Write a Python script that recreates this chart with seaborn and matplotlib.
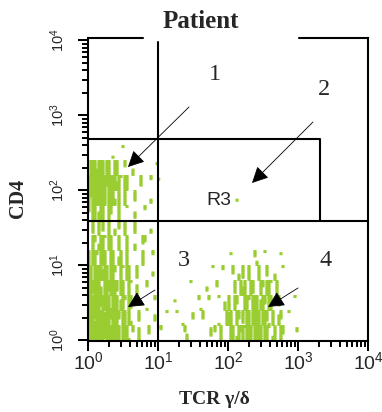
import numpy as np
import pandas as pd
import matplotlib
matplotlib.use("Agg")
import matplotlib.pyplot as plt
from matplotlib.ticker import LogLocator, NullFormatter, FuncFormatter
from matplotlib.lines import Line2D
from matplotlib.transforms import IdentityTransform
import seaborn as sns

# ---------------- data ----------------
# Occupied dot slots (of 7x7 = 49) per 0.2-decade cell, rows listed bottom -> top.
# Gate 1: CD4+ cells  (TCR 10^0..10^1, CD4 10^1.6..10^2.6)
cd4pos_origin = (0.0, 1.6)
cd4pos_counts = [
    [28, 18, 8, 3, 2],
    [45, 38, 14, 5, 2],
    [49, 47, 26, 5, 2],
    [38, 28, 10, 3, 1],
    [0, 1, 1, 0, 0],
]
# Gate 3: double-negative cells (TCR 10^0..10^1, CD4 10^0..10^1.6)
dn_origin = (0.0, 0.0)
dn_counts = [
    [49, 48, 36, 9, 4],
    [48, 45, 32, 7, 3],
    [47, 43, 28, 6, 3],
    [45, 40, 26, 6, 3],
    [42, 36, 22, 6, 2],
    [30, 28, 18, 7, 2],
    [20, 22, 14, 7, 3],
    [13, 15, 11, 6, 2],
]
# Gate 4: TCR gamma/delta+ cells (TCR 10^1..10^3, CD4 10^0..10^1.2)
gd_origin = (1.0, 0.0)
gd_counts = [
    [2, 3, 3, 4, 10, 26, 36, 36, 20, 2],
    [1, 2, 3, 4, 8, 24, 34, 34, 16, 1],
    [0, 1, 2, 3, 5, 18, 30, 30, 12, 1],
    [0, 0, 1, 2, 3, 13, 24, 24, 8, 0],
    [0, 0, 0, 1, 2, 7, 13, 12, 4, 0],
    [0, 0, 0, 0, 0, 1, 3, 3, 1, 0],
]
# isolated events
single_tcr = [10 ** 1.01, 10 ** 2.13]
single_cd4 = [10 ** 2.15, 10 ** 1.87]

# gate boundaries
quad_tcr = 10.0
quad_cd4 = 10 ** 1.593
r3_right = 10 ** 3.314
r3_top = 10 ** 2.685

tick_exponents = [0, 1, 2, 3, 4]
minor_multipliers = [2, 3, 4, 5, 6, 7, 8, 9]
region_labels = ["1", "2", "3", "4"]

# ---------------- build events ----------------
CELL = 0.2
SUB = 7
A1, A2 = 0.7548776662466927, 0.5698402909980532


def slot_order(shift):
    # low-discrepancy ranking of the 7x7 slots of a cell
    ranked = []
    for i in range(SUB):
        for j in range(SUB):
            ranked.append((((i * A1 * SUB) + (j * A2 * SUB) + shift * 0.618034) % 1.0, i, j))
    ranked.sort()
    return [(i, j) for _, i, j in ranked]


xs, ys = [], []
cell_id = 0
for (x0, y0), grid in [(cd4pos_origin, cd4pos_counts), (dn_origin, dn_counts), (gd_origin, gd_counts)]:
    for r, row in enumerate(grid):
        for c, n in enumerate(row):
            cell_id += 1
            if n <= 0:
                continue
            for (i, j) in slot_order(cell_id)[:n]:
                xs.append(10 ** (x0 + c * CELL + (i + 0.5) / SUB * CELL))
                ys.append(10 ** (y0 + r * CELL + (j + 0.5) / SUB * CELL))
xs += single_tcr
ys += single_cd4
events = pd.DataFrame({"TCR": xs, "CD4": ys})

# ---------------- figure ----------------
sns.set_style("ticks")
plt.rcParams.update({
    "mathtext.fontset": "custom",
    "mathtext.rm": "Liberation Sans",
    "mathtext.default": "rm",
})

fig = plt.figure(figsize=(3.82, 4.12), dpi=100)
ax = fig.add_axes([87.5 / 382, 71 / 412, 280.5 / 382, 303.3 / 412])
green = "#9ACD32"

sns.scatterplot(data=events, x="TCR", y="CD4", marker="s", s=5.0, color=green,
                edgecolor="none", linewidth=0, snap=False, ax=ax, legend=False, zorder=2)
ax.set_xscale("log")
ax.set_yscale("log")
ax.set_xlim(10 ** -0.007, 10 ** 4.0)
ax.set_ylim(10 ** -0.007, 10 ** 4.037)
ax.set_xlabel("")
ax.set_ylabel("")

fmt = FuncFormatter(lambda v, p: r"$10^{%d}$" % int(round(np.log10(v))))
for axis in (ax.xaxis, ax.yaxis):
    axis.set_major_locator(LogLocator(base=10, numticks=10))
    axis.set_minor_locator(LogLocator(base=10, subs=np.arange(2, 10), numticks=10))
    axis.set_minor_formatter(NullFormatter())
    axis.set_major_formatter(fmt)
ax.tick_params(which="both", direction="out", bottom=True, left=True, top=False, right=False)
ax.tick_params(which="major", length=7, width=1.4, color="black")
ax.tick_params(which="minor", length=4, width=1.2, color="black")
ax.tick_params(axis="x", which="major", labelsize=14, pad=0)
ax.tick_params(axis="y", which="major", labelsize=10.5, pad=8)
for lab in ax.get_yticklabels():
    lab.set_rotation(90)
    lab.set_va("center")

for side in ["left", "right", "bottom"]:
    ax.spines[side].set_visible(True)
    ax.spines[side].set_linewidth(1.5)
    ax.spines[side].set_color("black")
ax.spines["top"].set_visible(False)
ax.plot([0, 0.198], [1, 1], transform=ax.transAxes, color="black", lw=1.5, clip_on=False)
ax.plot([0.754, 1.0], [1, 1], transform=ax.transAxes, color="black", lw=1.5, clip_on=False)

# gates
lo_x, hi_x = ax.get_xlim()
lo_y, hi_y = ax.get_ylim()
ax.plot([quad_tcr, quad_tcr], [lo_y, 10 ** 3.98], color="black", lw=1.5, zorder=3)
ax.plot([lo_x, hi_x], [quad_cd4, quad_cd4], color="black", lw=1.5, zorder=3)
ax.plot([lo_x, r3_right, r3_right], [r3_top, r3_top, quad_cd4], color="black", lw=1.5, zorder=3)

# region numbers and arrows
num_pos = [(10 ** 1.81, 10 ** 3.54), (10 ** 3.37, 10 ** 3.34), (10 ** 1.37, 10 ** 1.07), (10 ** 3.39, 10 ** 1.07)]
for t, (px, py) in zip(region_labels, num_pos):
    ax.text(px, py, t, fontsize=17.5, family="Liberation Serif", ha="center", va="center", zorder=4)
ax.text(10 ** 1.87, 10 ** 1.87, "R3", fontsize=14, family="Liberation Sans", ha="center", va="center", zorder=4)

arrows = [((10 ** 1.443, 10 ** 3.113), (10 ** 0.571, 10 ** 2.313)),
          ((10 ** 3.214, 10 ** 2.913), (10 ** 2.343, 10 ** 2.10)),
          ((10 ** 0.957, 10 ** 0.673), (10 ** 0.571, 10 ** 0.447)),
          ((10 ** 3.0, 10 ** 0.70), (10 ** 2.571, 10 ** 0.447))]
for start, tip in arrows:
    ax.annotate("", xy=tip, xytext=start,
                arrowprops=dict(arrowstyle="-|>,head_length=1.0,head_width=0.5",
                                mutation_scale=10, lw=0.6, color="black",
                                shrinkA=0, shrinkB=0), zorder=5)

# titles
fig.text(201 / 382, 1 - 21.5 / 412, "Patient", fontsize=18, fontweight="bold",
         family="Liberation Serif", ha="center", va="center")
fig.text(214 / 382, 1 - 399 / 412, "TCR γ/δ", fontsize=14, fontweight="bold",
         family="Liberation Serif", ha="center", va="center")
fig.text(18.5 / 382, 1 - 198 / 412, "CD4", fontsize=14.5, fontweight="bold",
         family="Liberation Serif", ha="center", va="center", rotation=90)

# tick marks placed in display pixels through the axes' own transforms
fig.canvas.draw()
x0_disp, y0_disp = ax.transAxes.transform((0.0, 0.0))
major_pos = [10.0 ** e for e in tick_exponents]
minor_pos = [m * 10.0 ** e for e in tick_exponents[:-1] for m in minor_multipliers]
for vals, length, lw in ((major_pos, 10.0, 1.4), (minor_pos, 6.0, 1.2)):
    for v in vals:
        xd = ax.transData.transform((v, 1.0))[0]
        yd = ax.transData.transform((1.0, v))[1]
        fig.add_artist(Line2D([xd, xd], [y0_disp, y0_disp - length], color="black", lw=lw,
                              transform=IdentityTransform(), zorder=30, solid_capstyle="butt"))
        fig.add_artist(Line2D([x0_disp, x0_disp - length], [yd, yd], color="black", lw=lw,
                              transform=IdentityTransform(), zorder=30, solid_capstyle="butt"))

fig.savefig("out.png", dpi=100, facecolor="white")
